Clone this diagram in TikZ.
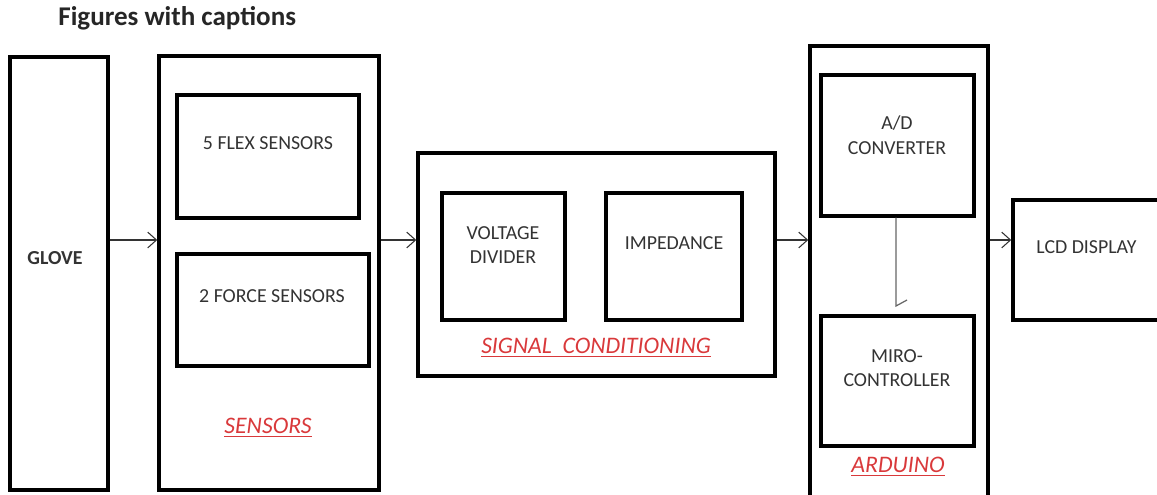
\documentclass[tikz,border=0pt]{standalone}
\usepackage{fontspec}
\setmainfont{Carlito}
\usepackage{xcolor}
\usepackage{tikz}
\usetikzlibrary{arrows.meta, positioning, calc}

\definecolor{inktext}{HTML}{333333}
\definecolor{captionred}{HTML}{D9393B}

\begin{document}
\begin{tikzpicture}[x=0.02cm, y=-0.02cm, >={Straight Barb[length=5pt,width=9pt]},
  block/.style={rectangle, draw, line width=2pt, inner sep=0pt},
  txt/.style={text=inktext, font=\fontsize{11.3}{14}\selectfont, align=center, inner sep=0pt},
  caption/.style={text=captionred, font=\fontsize{13.5}{15}\selectfont\itshape},
  flow/.style={->, line width=0.6pt, draw=inktext}]

\useasboundingbox (0,0) rectangle (1157,494);

\node[anchor=west, inner sep=0pt, text=black!85, font=\fontsize{15.4}{18}\selectfont\bfseries] (title) at (58,18) {Figures with captions};

% outer blocks
\node[block, minimum width=1.96cm, minimum height=8.66cm] (glove) at (59,273.5) {};
\node[block, minimum width=4.4cm, minimum height=8.68cm] (sensors) at (269,273) {};
\node[block, minimum width=7.14cm, minimum height=4.46cm] (signal) at (596.5,264.5) {};
\node[block, minimum width=3.56cm, minimum height=9.08cm] (arduino) at (899,273) {};
\node[block, minimum width=3.3cm, minimum height=2.4cm] (lcd) at (1095.5,260) {};

% inner blocks
\node[block, minimum width=3.64cm, minimum height=2.46cm] (flex) at (268,156.5) {};
\node[block, minimum width=3.84cm, minimum height=2.24cm] (force) at (273,310) {};
\node[block, minimum width=2.46cm, minimum height=2.54cm] (divider) at (503.5,256.5) {};
\node[block, minimum width=2.72cm, minimum height=2.54cm] (impedance) at (674,256.5) {};
\node[block, minimum width=3.06cm, minimum height=2.82cm] (adc) at (897.5,145.5) {};
\node[block, minimum width=3.06cm, minimum height=2.6cm] (micro) at (897.5,381) {};

% texts
\node[txt, font=\fontsize{11.3}{14}\selectfont\bfseries] (glovetxt) at (55,258) {GLOVE};
\node[txt] (flextxt) at (268,143) {5 FLEX SENSORS};
\node[txt] (forcetxt) at (272,296) {2 FORCE SENSORS};
\node[txt] (dividertxt) at (503,245) {VOLTAGE\\DIVIDER};
\node[txt] (impedancetxt) at (674,243) {IMPEDANCE};
\node[txt] (adctxt) at (897,135) {A/D\\CONVERTER};
\node[txt] (microtxt) at (897,368) {MIRO-\\CONTROLLER};
\node[txt, anchor=west] (lcdtxt) at (1036,247) {LCD DISPLAY};

% captions
\node[caption] (sensorscap) at (268,428) {\underline{SENSORS}};
\node[caption] (signalcap) at (596,348) {\underline{SIGNAL\ \ CONDITIONING}};
\node[caption] (arduinocap) at (898,467) {\underline{ARDUINO}};

% connectors
\coordinate (row) at (0,240);
\draw[flow] (glove.east |- row) -- (sensors.west |- row);
\draw[flow] (sensors.east |- row) -- (signal.west |- row);
\draw[flow] (signal.east |- row) -- (arduino.west |- row);
\draw[flow] (arduino.east |- row) -- (lcd.west |- row);

\coordinate (tick) at (896,306);
\draw[line width=0.7pt, draw=black!60] (adc.south -| tick) -- (tick) -- ++(11,-6);

\end{tikzpicture}
\end{document}
